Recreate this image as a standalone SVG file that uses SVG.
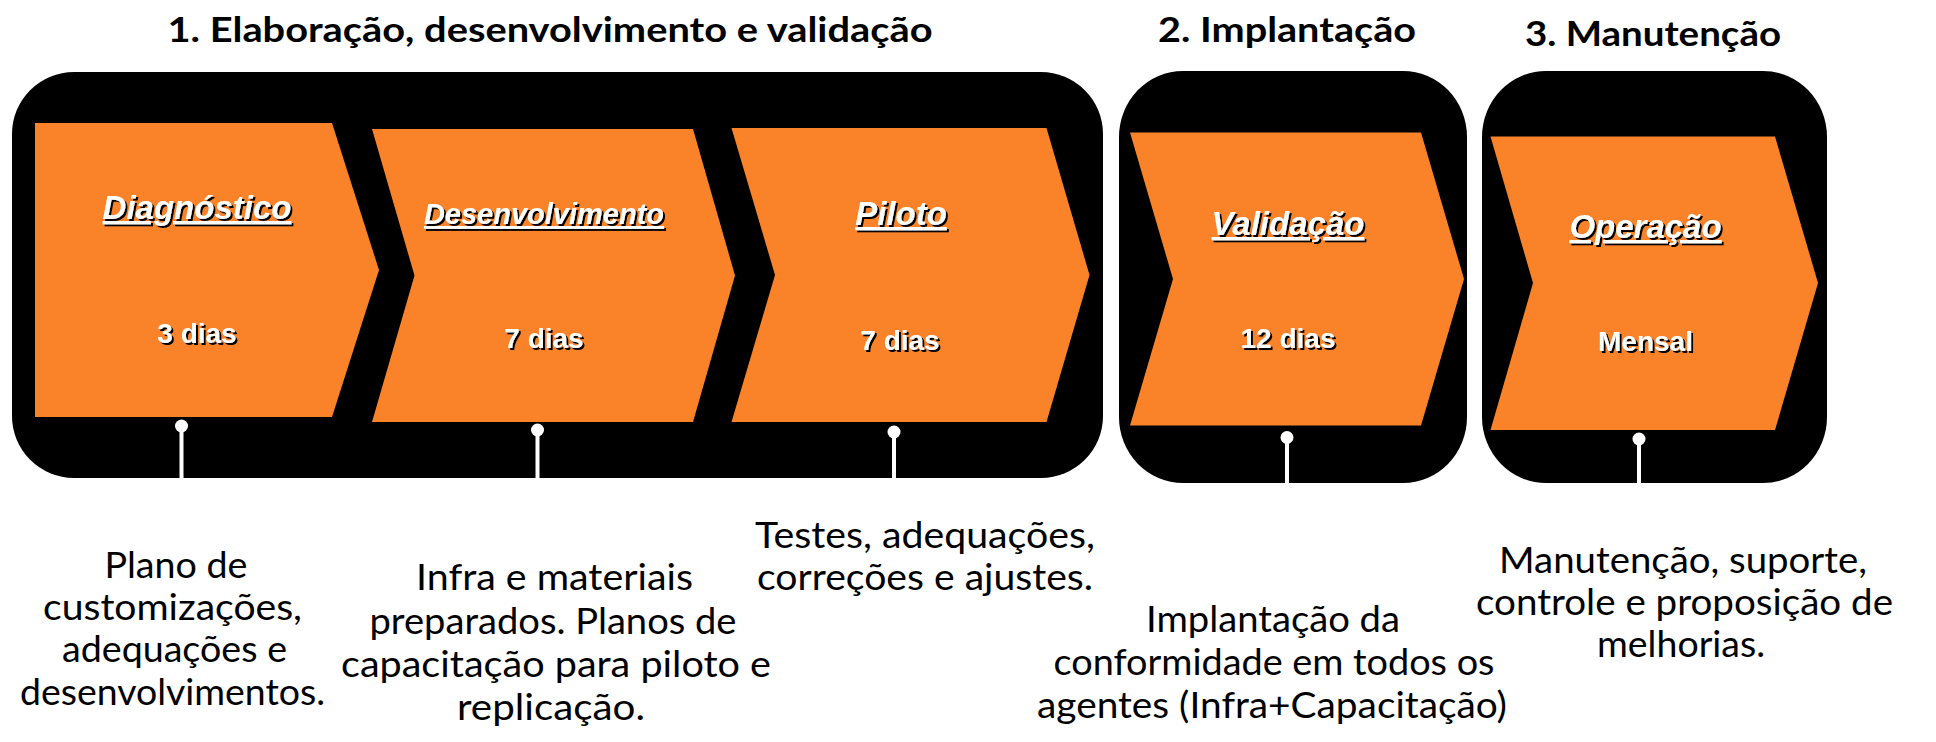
<svg xmlns="http://www.w3.org/2000/svg" width="1936" height="742" viewBox="0 0 1936 742">
<defs>
<filter id="sh" x="-10%" y="-20%" width="130%" height="160%">
<feDropShadow dx="2" dy="2" stdDeviation="0" flood-color="#000" flood-opacity="1"/>
</filter>
<style>
.box{fill:#000}
.chev{fill:#FA832A}
.head{font-family:Lato,"Open Sans",sans-serif;font-weight:bold;font-size:35px;fill:#000;text-anchor:middle}
.lbl{font-family:"Liberation Sans",Arial,sans-serif;font-weight:bold;font-style:italic;font-size:33px;fill:#fff;text-anchor:middle;text-decoration:underline}
.dur{font-family:"Liberation Sans",Arial,sans-serif;font-weight:bold;font-size:28px;fill:#fff;text-anchor:middle}
.desc{font-family:Lato,"Open Sans",sans-serif;font-size:37px;fill:#000;text-anchor:middle}
.pin{stroke:#fff;stroke-width:4;fill:none}
.dot{fill:#fff}
</style>
</defs>
<rect width="1936" height="742" fill="#fff"/>

<g id="headers">
<text class="head" x="550" y="42" textLength="765" lengthAdjust="spacingAndGlyphs">1. Elaboração, desenvolvimento e validação</text>
<text class="head" x="1287" y="42" textLength="258" lengthAdjust="spacingAndGlyphs">2. Implantação</text>
<text class="head" x="1653" y="46" textLength="256" lengthAdjust="spacingAndGlyphs">3. Manutenção</text>
</g>

<g id="phase1">
<rect class="box" x="12" y="72" width="1091" height="406" rx="62" ry="62"/>
</g>
<g id="phase2">
<rect class="box" x="1119" y="71" width="348" height="412" rx="64" ry="66"/>
</g>
<g id="phase3">
<rect class="box" x="1482" y="71" width="345" height="412" rx="64" ry="66"/>
</g>

<g id="connectors">
<line class="pin" x1="181.5" y1="426" x2="181.5" y2="478"/>
<circle class="dot" cx="181.5" cy="426" r="6.5"/>
<line class="pin" x1="537.5" y1="430" x2="537.5" y2="478"/>
<circle class="dot" cx="537.5" cy="430" r="6.5"/>
<line class="pin" x1="894" y1="432" x2="894" y2="478"/>
<circle class="dot" cx="894" cy="432" r="6.5"/>
<line class="pin" x1="1287" y1="437.5" x2="1287" y2="483"/>
<circle class="dot" cx="1287" cy="437.5" r="6.5"/>
<line class="pin" x1="1639" y1="439" x2="1639" y2="483"/>
<circle class="dot" cx="1639" cy="439" r="6.5"/>
</g>

<g id="diagnostico">
<polygon class="chev" points="35,123 332,123 379,270 332,417 35,417"/>
<text class="lbl" x="197" y="219" filter="url(#sh)">Diagnóstico</text>
<text class="dur" x="197" y="343" filter="url(#sh)">3 dias</text>
</g>
<g id="desenvolvimento">
<polygon class="chev" points="372,129 693,129 735,275.5 693,422 372,422 414.5,275.5"/>
<text class="lbl" x="544" y="224" style="font-size:29px" filter="url(#sh)">Desenvolvimento</text>
<text class="dur" x="544" y="348" filter="url(#sh)">7 dias</text>
</g>
<g id="piloto">
<polygon class="chev" points="731.5,128 1046.5,128 1089.5,275 1046.5,422 731.5,422 775,275"/>
<text class="lbl" x="901" y="225" filter="url(#sh)">Piloto</text>
<text class="dur" x="900" y="350" filter="url(#sh)">7 dias</text>
</g>
<g id="validacao">
<polygon class="chev" points="1130,132.5 1421,132.5 1464,279 1421,425.5 1130,425.5 1173,279"/>
<text class="lbl" x="1288" y="235" filter="url(#sh)">Validação</text>
<text class="dur" x="1288" y="348" filter="url(#sh)">12 dias</text>
</g>
<g id="operacao">
<polygon class="chev" points="1490.5,136.5 1775,136.5 1818,283 1775,430 1490.5,430 1533,283"/>
<text class="lbl" x="1645.5" y="238" filter="url(#sh)">Operação</text>
<text class="dur" x="1645.5" y="351" filter="url(#sh)">Mensal</text>
</g>

<g id="desc-diagnostico">
<text class="desc" x="176" y="578" textLength="143" lengthAdjust="spacingAndGlyphs">Plano de</text>
<text class="desc" x="172.5" y="620" textLength="259" lengthAdjust="spacingAndGlyphs">customizações,</text>
<text class="desc" x="174.5" y="662" textLength="225" lengthAdjust="spacingAndGlyphs">adequações e</text>
<text class="desc" x="172.5" y="705" textLength="305" lengthAdjust="spacingAndGlyphs">desenvolvimentos.</text>
</g>
<g id="desc-desenvolvimento">
<text class="desc" x="554.5" y="590" textLength="277" lengthAdjust="spacingAndGlyphs">Infra e materiais</text>
<text class="desc" x="553" y="634" textLength="367" lengthAdjust="spacingAndGlyphs">preparados. Planos de</text>
<text class="desc" x="556" y="677" textLength="430" lengthAdjust="spacingAndGlyphs">capacitação para piloto e</text>
<text class="desc" x="551" y="720" textLength="188" lengthAdjust="spacingAndGlyphs">replicação.</text>
</g>
<g id="desc-piloto">
<text class="desc" x="925" y="548" textLength="340" lengthAdjust="spacingAndGlyphs">Testes, adequações,</text>
<text class="desc" x="925" y="590" textLength="336" lengthAdjust="spacingAndGlyphs">correções e ajustes.</text>
</g>
<g id="desc-validacao">
<text class="desc" x="1273" y="632" textLength="254" lengthAdjust="spacingAndGlyphs">Implantação da</text>
<text class="desc" x="1274" y="675" textLength="441" lengthAdjust="spacingAndGlyphs">conformidade em todos os</text>
<text class="desc" x="1272" y="718" textLength="470" lengthAdjust="spacingAndGlyphs">agentes (Infra+Capacitação)</text>
</g>
<g id="desc-operacao">
<text class="desc" x="1683" y="573" textLength="368" lengthAdjust="spacingAndGlyphs">Manutenção, suporte,</text>
<text class="desc" x="1684.5" y="615" textLength="417" lengthAdjust="spacingAndGlyphs">controle e proposição de</text>
<text class="desc" x="1681" y="657" textLength="168" lengthAdjust="spacingAndGlyphs">melhorias.</text>
</g>
</svg>
